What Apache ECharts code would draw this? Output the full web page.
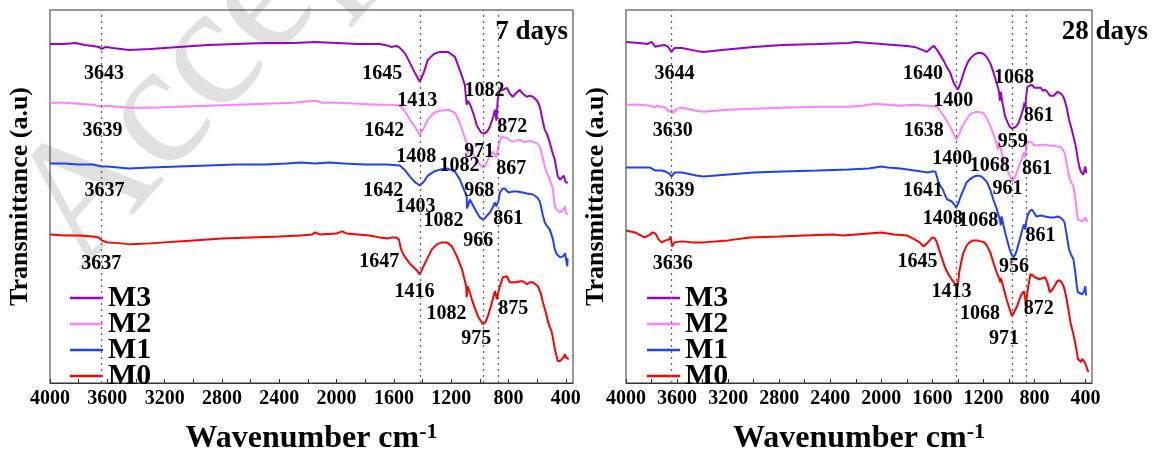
<!DOCTYPE html>
<html>
<head>
<meta charset="utf-8">
<title>FTIR 7 days / 28 days</title>
<script src="https://cdn.jsdelivr.net/npm/echarts@6/dist/echarts.min.js"></script>
<style>
  html, body { margin: 0; padding: 0; background: #fff; }
  #chart { width: 1161px; height: 460px; }
</style>
</head>
<body>
<div id="chart"></div>
<script>
const FONT = '"Liberation Serif", "Times New Roman", serif';

const legendNames = ['M3', 'M2', 'M1', 'M0'];
const tickValues = [400, 600, 800, 1000, 1200, 1400, 1600, 1800, 2000, 2200, 2400, 2600, 2800, 3000, 3200, 3400, 3600, 3800, 4000];
const labelValues = [400, 800, 1200, 1600, 2000, 2400, 2800, 3200, 3600, 4000];

// 7 days : [wavenumber, transmittance (a.u., offset stacked)]
const m3Day7 = [[4000,340],[3900,340],[3820,341],[3760,339],[3700,338],[3660,337],[3640,335],[3610,337],[3560,336],[3450,334],[3300,335],[3100,337],[2900,339],[2700,340],[2500,341],[2300,341],[2150,342],[2000,341],[1850,340],[1700,340],[1663,339],[1620,337],[1580,338],[1558,336],[1520,330],[1488,321],[1450,310],[1419,302],[1390,312],[1363,324],[1320,330],[1279,332],[1223,332],[1174,327],[1140,314],[1105,299],[1095,297],[1092,279],[1085,283],[1070,280],[1040,268],[1021,258],[990,251],[970,250],[950,252],[930,257],[905,268],[895,274],[884,263],[875,285],[860,293],[840,294],[812,296],[790,290],[770,287],[745,291],[721,294],[700,290],[672,287],[650,288],[630,287],[600,283],[581,277],[560,262],[547,254],[530,249],[512,241],[495,232],[477,224],[465,214],[456,207],[440,204],[428,204],[415,208],[407,207],[400,201],[395,203],[386,201]];
const m2Day7 = [[4000,281],[3900,281],[3800,280],[3700,279],[3640,277],[3600,278],[3450,276],[3300,276],[3100,277],[2900,278],[2700,279],[2500,280],[2300,281],[2150,283],[2100,281],[2000,281],[1850,280],[1700,279],[1600,279],[1558,278],[1520,272],[1488,264],[1450,256],[1419,249],[1390,256],[1363,264],[1320,271],[1279,273],[1223,274],[1174,271],[1140,261],[1105,246],[1090,240],[1086,229],[1080,236],[1060,232],[1040,228],[1021,224],[1000,219],[979,216],[965,217],[950,222],[930,228],[910,232],[895,229],[885,226],[878,232],[870,238],[850,247],[830,246],[812,246],[790,243],[770,242],[745,243],[721,244],[700,242],[672,242],[650,243],[630,242],[600,240],[581,237],[560,225],[547,217],[530,210],[512,204],[495,197],[490,194],[477,177],[465,174],[456,172],[440,171],[428,171],[415,174],[407,177],[400,172],[393,169],[386,170]];
const m1Day7 = [[4000,220],[3900,220],[3800,219],[3700,219],[3640,217],[3600,217],[3450,215],[3300,216],[3100,217],[2900,218],[2700,219],[2500,219],[2350,220],[2250,221],[2150,220],[2050,221],[1950,220],[1800,219],[1650,219],[1558,218],[1520,213],[1488,207],[1450,201],[1419,198],[1390,202],[1363,208],[1320,212],[1279,214],[1223,215],[1174,212],[1140,204],[1105,192],[1092,187],[1090,175],[1082,178],[1070,184],[1040,176],[1021,171],[1000,166],[979,164],[965,165],[950,168],[930,171],[910,176],[895,181],[885,177],[878,175],[870,183],[860,191],[840,195],[826,195],[800,191],[770,192],[740,192],[700,191],[672,190],[630,189],[600,186],[581,182],[560,168],[547,161],[530,157],[512,154],[490,144],[477,134],[463,129],[450,127],[440,126],[420,127],[405,130],[395,132],[390,117],[388,125]];
const m0Day7 = [[4000,149],[3900,148],[3800,148],[3700,147],[3660,146],[3640,143],[3600,141],[3500,140],[3440,139],[3300,140],[3200,141],[3000,143],[2800,145],[2600,146],[2400,147],[2250,148],[2170,149],[2150,151],[2120,149],[2000,150],[1960,152],[1930,150],[1850,149],[1770,148],[1700,146],[1640,145],[1610,146],[1585,146],[1565,144],[1550,134],[1530,128],[1510,124],[1490,120],[1470,117],[1455,115],[1440,113],[1430,112],[1419,109],[1400,115],[1370,124],[1335,134],[1300,139],[1265,141],[1230,141],[1195,137],[1160,127],[1125,114],[1095,97],[1092,86],[1085,97],[1070,91],[1050,81],[1014,67],[979,59],[960,61],[944,67],[925,76],[910,84],[895,92],[887,88],[881,84],[870,92],[860,97],[840,106],[812,107],[791,101],[770,101],[740,101],[720,102],[700,102],[672,99],[650,101],[630,101],[595,97],[575,90],[560,81],[540,71],[525,62],[512,56],[500,52],[490,45],[477,34],[465,27],[456,22],[440,22],[428,22],[415,26],[407,29],[400,26],[393,24],[380,24]];

// 28 days
const m3Day28 = [[4000,342],[3900,341],[3830,340],[3800,342],[3791,342],[3770,337],[3750,338],[3700,339],[3670,337],[3644,332],[3620,336],[3560,336],[3450,333],[3393,332],[3250,334],[3000,337],[2772,339],[2500,340],[2256,341],[2200,342],[2100,341],[2000,340],[1900,339],[1800,338],[1740,337],[1680,334],[1646,332],[1610,336],[1588,338],[1570,335],[1553,332],[1530,327],[1507,322],[1484,316],[1460,311],[1437,302],[1420,298],[1402,294],[1385,299],[1367,306],[1345,315],[1321,322],[1300,326],[1274,329],[1245,331],[1216,331],[1190,329],[1170,326],[1145,320],[1123,312],[1100,302],[1088,297],[1078,292],[1072,283],[1065,292],[1050,280],[1030,267],[1010,261],[995,257],[975,255],[960,254],[945,257],[925,261],[905,268],[891,274],[879,281],[872,276],[865,288],[856,297],[840,298],[821,299],[800,296],[786,294],[770,296],[751,296],[735,293],[716,294],[700,292],[680,288],[665,286],[650,288],[635,289],[620,292],[605,292],[590,290],[575,287],[565,284],[548,276],[530,264],[512,256],[495,247],[478,238],[460,224],[448,216],[437,212],[425,210],[418,209],[410,213],[402,217],[396,211],[391,212]];
const m2Day28 = [[4000,279],[3900,279],[3800,278],[3778,276],[3760,278],[3740,277],[3700,277],[3662,272],[3644,274],[3630,271],[3600,275],[3560,276],[3450,273],[3393,272],[3200,274],[3000,275],[2772,276],[2500,277],[2256,277],[2150,278],[2050,280],[1950,279],[1850,278],[1740,279],[1650,278],[1565,277],[1540,273],[1507,267],[1484,262],[1460,257],[1435,250],[1414,244],[1390,250],[1367,257],[1340,263],[1309,269],[1280,271],[1251,272],[1205,271],[1180,267],[1158,261],[1135,254],[1112,246],[1095,239],[1086,234],[1080,242],[1074,239],[1058,231],[1042,224],[1025,218],[1007,212],[990,207],[972,202],[955,206],[937,212],[920,218],[902,224],[884,231],[874,226],[866,235],[856,242],[840,242],[821,241],[800,238],[786,237],[750,239],[716,239],[680,238],[646,238],[620,237],[600,237],[580,234],[565,231],[548,220],[530,207],[512,201],[495,197],[478,183],[468,170],[460,164],[445,163],[426,162],[412,164],[402,166],[394,162],[386,164]];
const m1Day28 = [[4000,216],[3900,216],[3810,216],[3795,218],[3770,213],[3755,211],[3720,213],[3690,212],[3660,210],[3644,207],[3620,211],[3560,211],[3450,208],[3393,207],[3200,209],[3000,211],[2772,212],[2500,213],[2256,214],[2100,215],[2000,217],[1950,216],[1850,215],[1740,213],[1635,211],[1600,212],[1577,212],[1565,207],[1553,201],[1535,197],[1518,194],[1500,188],[1484,184],[1465,183],[1449,182],[1430,179],[1414,176],[1395,181],[1379,187],[1356,194],[1333,201],[1300,205],[1274,207],[1245,208],[1216,207],[1190,204],[1170,201],[1145,193],[1123,184],[1100,176],[1088,171],[1070,163],[1065,158],[1058,167],[1045,159],[1030,151],[1012,142],[995,134],[980,129],[965,126],[950,129],[937,134],[920,142],[902,151],[884,159],[872,154],[865,162],[856,167],[840,172],[821,174],[800,170],[786,167],[750,168],[716,167],[680,166],[646,166],[620,167],[600,166],[580,164],[565,161],[548,148],[530,134],[512,128],[495,124],[478,108],[468,96],[460,91],[445,90],[426,89],[412,92],[402,97],[397,88],[391,89]];
const m0Day28 = [[4000,153],[3930,151],[3856,146],[3820,148],[3790,151],[3770,150],[3745,144],[3720,141],[3690,143],[3660,144],[3650,147],[3646,149],[3640,137],[3620,141],[3560,142],[3480,141],[3393,141],[3200,143],[3030,146],[2800,147],[2600,148],[2380,149],[2300,148],[2200,149],[2100,150],[2000,151],[1900,149],[1800,148],[1740,144],[1700,141],[1670,137],[1650,139],[1635,141],[1600,146],[1580,145],[1565,141],[1548,134],[1530,127],[1512,120],[1495,114],[1470,108],[1449,104],[1425,100],[1402,97],[1396,104],[1390,111],[1375,121],[1356,131],[1330,138],[1309,141],[1280,143],[1251,143],[1220,142],[1193,141],[1170,137],[1147,131],[1125,122],[1100,112],[1080,106],[1068,101],[1063,105],[1058,104],[1040,94],[1019,84],[1000,76],[977,67],[960,71],[937,77],[920,83],[902,89],[884,92],[874,86],[867,74],[862,84],[856,91],[845,100],[833,109],[815,108],[798,106],[780,105],[763,104],[740,105],[716,106],[700,101],[681,91],[670,92],[658,94],[640,98],[623,102],[605,103],[588,101],[570,96],[553,87],[535,74],[519,61],[500,51],[484,42],[470,32],[460,24],[448,22],[437,21],[425,24],[414,26],[404,20],[395,17],[387,15],[379,11]];

// peak labels: [wavenumber, level, text]
const peaks7 = [[3620,309,'3643'],[3630,252,'3639'],[3616,192,'3637'],[3638,119,'3637'],
  [1677,309,'1645'],[1433,282,'1413'],[1663,252,'1642'],[1440,226,'1408'],[1670,192,'1642'],[1446,176,'1403'],[1698,121,'1647'],[1453,91,'1416'],
  [965,292,'1082'],[770,256,'872'],[1000,231,'971'],[1139,217,'1082'],[777,214,'867'],[1000,192,'968'],[1251,162,'1082'],[798,164,'861'],[1007,142,'966'],[1230,69,'1082'],[1021,44,'975'],[763,74,'875']];
const peaks28 = [[3616,309,'3644'],[3630,252,'3630'],[3616,192,'3639'],[3630,119,'3636'],
  [1670,309,'1640'],[1433,282,'1400'],[958,305,'1068'],[763,267,'861'],
  [1663,252,'1638'],[967,241,'959'],[1440,224,'1400'],[1147,217,'1068'],[777,214,'861'],[1007,194,'961'],
  [1670,192,'1641'],[1516,164,'1408'],[1237,162,'1068'],[749,147,'861'],[958,116,'956'],
  [1712,121,'1645'],[1446,91,'1413'],[1223,69,'1068'],[763,74,'872'],[1035,44,'971']];

const dotted7 = [3643, 1416, 975, 872];
const dotted28 = [3644, 1416, 975, 867];

const colors = { M3: '#9900cc', M2: '#ff80ff', M1: '#1f3fff', M0: '#ff0000' };

function xAxisFor(idx) {
  return {
    type: 'value', gridIndex: idx, inverse: true, min: 350, max: 4000,
    name: '{a|Wavenumber cm}{b|-1}', nameLocation: 'middle', nameGap: 38,
    nameTextStyle: {
      rich: {
        a: { fontSize: 32, fontWeight: 'bold', fontFamily: FONT, color: '#000' },
        b: { fontSize: 22, fontWeight: 'bold', fontFamily: FONT, color: '#000', padding: [0, 0, 14, 0] }
      }
    },
    axisLine: { show: true, onZero: false, lineStyle: { color: '#333', width: 1 } },
    axisTick: { show: true, inside: true, length: 4, customValues: tickValues, lineStyle: { color: '#333' } },
    axisLabel: {
      customValues: labelValues, formatter: v => String(v), margin: 6,
      fontSize: 20, fontWeight: 'bold', fontFamily: FONT, color: '#000'
    },
    splitLine: { show: false }
  };
}

function yAxisFor(idx) {
  return {
    type: 'value', gridIndex: idx, min: 0, max: 374,
    name: 'Transmittance (a.u)', nameLocation: 'middle', nameGap: 17,
    nameTextStyle: { fontSize: 26, fontWeight: 'bold', fontFamily: FONT, color: '#000' },
    axisLine: { show: false }, axisTick: { show: false }, axisLabel: { show: false }, splitLine: { show: false }
  };
}

function lineSeries(name, data, idx) {
  return {
    name: name, type: 'line', xAxisIndex: idx, yAxisIndex: idx, data: data,
    symbol: 'none', showSymbol: false, animation: false,
    lineStyle: { width: 2, color: colors[name] }, itemStyle: { color: colors[name] }
  };
}

function peakSeries(data, idx) {
  return {
    type: 'scatter', xAxisIndex: idx, yAxisIndex: idx, data: data, symbolSize: 1, silent: true, z: 5,
    itemStyle: { color: '#fff', opacity: 0 },
    label: {
      show: true, position: [0, 0], align: 'center', verticalAlign: 'middle', opacity: 1,
      formatter: p => p.data[2], fontSize: 20, fontWeight: 'bold', fontFamily: FONT, color: '#000'
    }
  };
}

function dottedLines(values) {
  return {
    silent: true, symbol: ['none', 'none'], label: { show: false },
    lineStyle: { color: '#666', type: [2, 4], width: 1.3 },
    data: values.map(v => ({ xAxis: v }))
  };
}

function legendFor(left) {
  return {
    left: left, top: 283, orient: 'vertical', data: legendNames, icon: 'rect',
    itemWidth: 33, itemHeight: 2.5, itemGap: -4, padding: 0,
    textStyle: { fontSize: 30, fontWeight: 'bold', fontFamily: FONT, color: '#000', lineHeight: 21, padding: [0, 0, 5, 0] }
  };
}

const titleStyle = { fontSize: 27, fontWeight: 'bold', fontFamily: FONT, color: '#000' };

const s7 = [lineSeries('M0', m0Day7, 0), lineSeries('M1', m1Day7, 0), lineSeries('M2', m2Day7, 0), lineSeries('M3', m3Day7, 0)];
const s28 = [lineSeries('M0', m0Day28, 1), lineSeries('M1', m1Day28, 1), lineSeries('M2', m2Day28, 1), lineSeries('M3', m3Day28, 1)];
s7[0].markLine = dottedLines(dotted7);
s28[0].markLine = dottedLines(dotted28);

const option = {
  animation: false,
  backgroundColor: '#fff',
  title: [
    { text: '7 days', right: 593, top: 19, padding: 0, textStyle: titleStyle },
    { text: '28 days', right: 13, top: 19, padding: 0, textStyle: titleStyle }
  ],
  legend: [legendFor(70), legendFor(647)],
  grid: [
    { left: 50, right: 588, top: 10, bottom: 76, show: true, borderColor: '#333', borderWidth: 1 },
    { left: 626, right: 10, top: 10, bottom: 76, show: true, borderColor: '#333', borderWidth: 1 }
  ],
  xAxis: [xAxisFor(0), xAxisFor(1)],
  yAxis: [yAxisFor(0), yAxisFor(1)],
  // faint "Accepted" watermark of the manuscript
  graphic: [{
    type: 'text', x: 112, y: 300, rotation: Math.PI * 48 / 180, silent: true, z: -10,
    style: { text: 'Accepted', fontSize: 175, fontFamily: FONT, fill: '#e0e0e0', verticalAlign: 'bottom' }
  }],
  series: s7.concat(s28, [peakSeries(peaks7, 0), peakSeries(peaks28, 1)])
};

const chart = echarts.init(document.getElementById('chart'));
chart.setOption(option);
</script>
</body>
</html>
